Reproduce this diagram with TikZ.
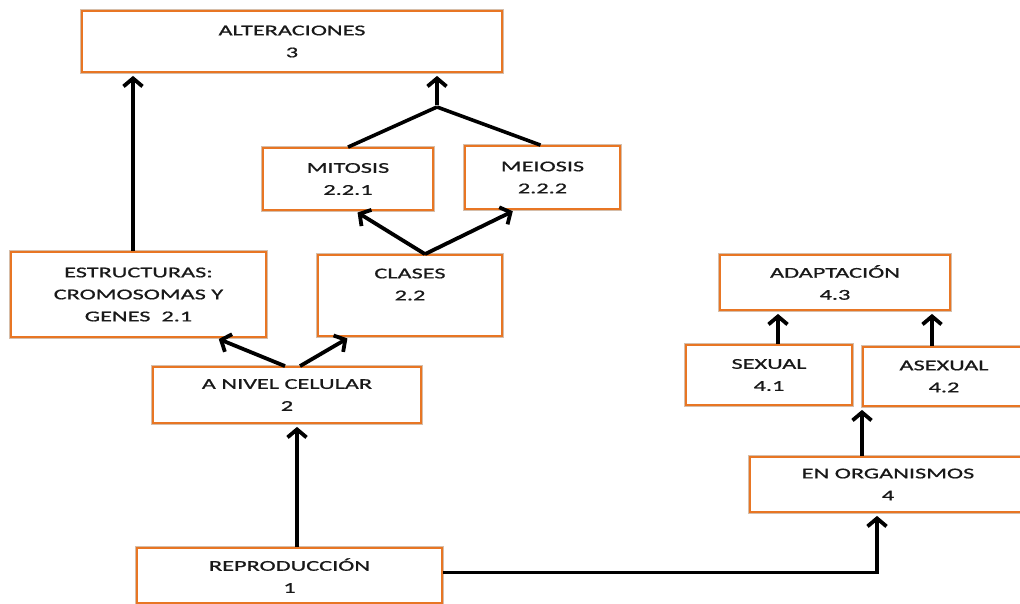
\documentclass[tikz,border=0pt]{standalone}
\usepackage{fontspec}
\setmainfont{Carlito}[FakeStretch=1.62,FakeBold=0.8]
\usetikzlibrary{arrows.meta}
\definecolor{boxor}{RGB}{232,118,36}
\definecolor{boxsh}{RGB}{214,190,170}
\definecolor{txt}{RGB}{25,25,25}
\tikzset{
  cbox/.style={rectangle, fill=white, draw=boxor, line width=1.8pt,
    preaction={draw=boxsh, line width=4.2pt},
    align=center, text=txt, inner sep=0pt,
    font=\fontsize{15}{22}\selectfont},
  arr/.style={line width=3.8pt, -{Straight Barb[length=8pt,width=19pt]}, shorten >=3pt},
  conn/.style={line width=3.6pt}
}
\begin{document}
\begin{tikzpicture}[x=1pt,y=-1pt]
\useasboundingbox (0,0) rectangle (1020,603);
\node[cbox, minimum width=420pt, minimum height=61pt] (alt) at (292,41.5) {ALTERACIONES\\3};
\node[cbox, minimum width=170pt, minimum height=62pt] (mit) at (348,179) {MITOSIS\\2.2.1};
\node[cbox, minimum width=155pt, minimum height=63pt] (mei) at (542.5,177.5) {MEIOSIS\\2.2.2};
\node[cbox, minimum width=255pt, minimum height=85pt] (est) at (138.5,294.5) {ESTRUCTURAS:\\CROMOSOMAS Y\\GENES\ \ 2.1};
\node[cbox, minimum width=184pt, minimum height=81pt] (cla) at (410,295.5) {CLASES\\2.2\\\mbox{}};
\node[cbox, minimum width=268pt, minimum height=56pt] (niv) at (287,395) {A NIVEL CELULAR\\2};
\node[cbox, minimum width=230pt, minimum height=55pt] (ada) at (835,282.5) {ADAPTACIÓN\\4.3};
\node[cbox, minimum width=166pt, minimum height=60pt] (sex) at (769,375) {SEXUAL\\4.1};
\node[cbox, minimum width=162pt, minimum height=59pt] (asx) at (944,376.5) {ASEXUAL\\4.2};
\node[cbox, minimum width=276pt, minimum height=55pt] (org) at (888,484.5) {EN ORGANISMOS\\4};
\node[cbox, minimum width=305pt, minimum height=55pt] (rep) at (289.5,575.5) {REPRODUCCIÓN\\1};

% estructuras -> alteraciones
\coordinate (e1) at ([xshift=-5.5pt]est.north);
\draw[arr] (e1) -- (e1 |- alt.south);
% mitosis/meiosis -> alteraciones
\coordinate (j) at (437,107);
\draw[conn] (mit.north) -- (j);
\draw[conn] ([xshift=-2pt]mei.north) -- (j);
\draw[arr] ([yshift=1.8pt]j) -- (j |- alt.south);
% clases -> mitosis, meiosis
\coordinate (c1) at ([xshift=15pt]cla.north);
\draw[arr] (c1) -- ([xshift=7pt]mit.south);
\draw[arr] (c1) -- ([xshift=-27pt]mei.south);
% nivel celular -> estructuras, clases
\draw[arr] ([xshift=-2pt]niv.north) -- ([xshift=77.5pt]est.south);
\draw[arr] ([xshift=13pt]niv.north) -- ([xshift=-60pt]cla.south);
% reproduccion -> nivel celular
\coordinate (r1) at ([xshift=7.5pt]rep.north);
\draw[arr] (r1) -- (r1 |- niv.south);
% reproduccion -> organismos
\coordinate (r2) at ([yshift=3pt]rep.east);
\draw[arr] (r2) -| ([xshift=-11pt]org.south);
% organismos -> asexual
\coordinate (o1) at ([xshift=-26pt]org.north);
\draw[arr] (o1) -- (o1 |- asx.south);
% sexual, asexual -> adaptacion
\coordinate (s1) at ([xshift=9pt]sex.north);
\draw[arr] (s1) -- (s1 |- ada.south);
\coordinate (a1) at ([xshift=-12pt]asx.north);
\draw[arr] (a1) -- (a1 |- ada.south);
\end{tikzpicture}
\end{document}
